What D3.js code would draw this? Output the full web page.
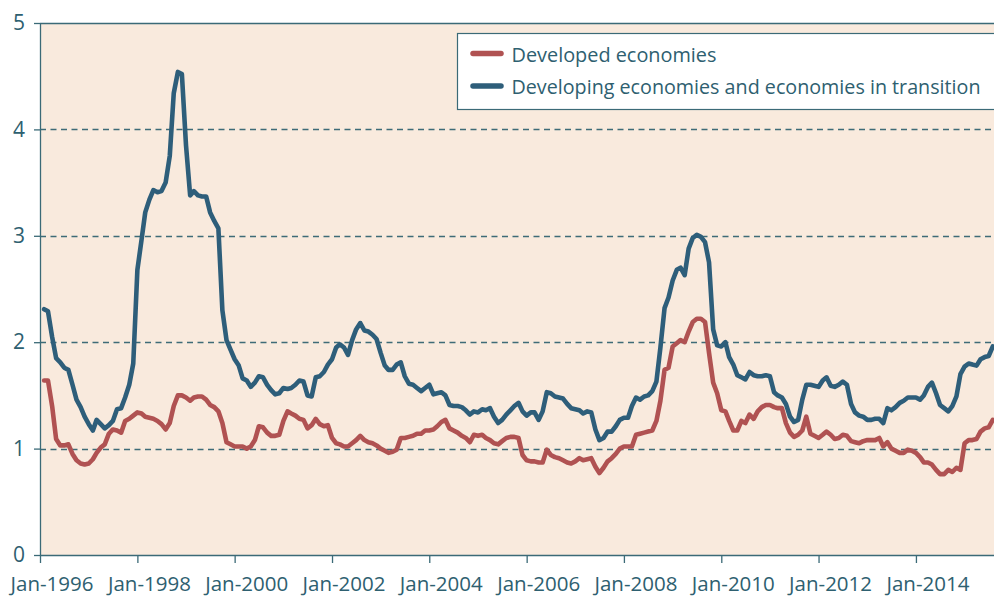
<!DOCTYPE html>
<html>
<head>
<meta charset="utf-8">
<script src="https://cdn.jsdelivr.net/npm/d3@7"></script>
<style>
  body { margin: 0; background: #ffffff; }
  svg { display: block; font-family: "Open Sans", "Noto Sans", sans-serif; }
</style>
</head>
<body>
<svg id="chart" width="994" height="597"></svg>
<script>
// ---------------- DATA ----------------
// Monthly observations, first value = February 1996
const startYear = 1996;
const startMonthIndex = 1; // February (0-based)

const seriesNames = ["Developed economies", "Developing economies and economies in transition"];

const developed = [
  1.64,1.64,1.40,1.09,1.03,1.03,1.04,0.95,0.89,0.86,0.85,0.86,
  0.90,0.96,1.01,1.04,1.14,1.18,1.17,1.15,1.26,1.28,1.31,1.34,
  1.33,1.30,1.29,1.28,1.26,1.23,1.18,1.24,1.40,1.50,1.50,1.48,
  1.45,1.48,1.49,1.49,1.46,1.41,1.39,1.35,1.24,1.06,1.04,1.02,
  1.02,1.02,1.00,1.02,1.08,1.21,1.20,1.15,1.12,1.12,1.13,1.26,
  1.35,1.33,1.31,1.28,1.27,1.19,1.22,1.28,1.23,1.21,1.22,1.10,
  1.05,1.04,1.02,1.02,1.05,1.08,1.12,1.08,1.06,1.05,1.03,1.00,
  0.98,0.96,0.97,0.99,1.10,1.10,1.11,1.12,1.14,1.14,1.17,1.17,
  1.18,1.21,1.25,1.27,1.19,1.17,1.15,1.12,1.10,1.06,1.13,1.12,
  1.13,1.10,1.08,1.05,1.04,1.07,1.10,1.11,1.11,1.10,0.94,0.89,
  0.88,0.88,0.87,0.87,0.99,0.94,0.92,0.91,0.89,0.87,0.86,0.88,
  0.91,0.89,0.90,0.91,0.83,0.77,0.82,0.88,0.91,0.95,1.00,1.02,
  1.02,1.02,1.13,1.14,1.15,1.16,1.17,1.26,1.45,1.74,1.76,1.96,
  1.99,2.02,2.00,2.10,2.19,2.22,2.22,2.19,1.90,1.62,1.52,1.36,
  1.35,1.26,1.17,1.17,1.26,1.24,1.32,1.28,1.35,1.39,1.41,1.41,
  1.39,1.38,1.38,1.24,1.15,1.11,1.13,1.17,1.30,1.14,1.12,1.10,
  1.13,1.16,1.13,1.09,1.10,1.13,1.12,1.07,1.06,1.05,1.07,1.08,
  1.08,1.08,1.10,1.02,1.06,1.00,0.98,0.96,0.96,0.99,0.98,0.96,
  0.92,0.87,0.87,0.85,0.80,0.76,0.76,0.80,0.78,0.82,0.80,1.05,
  1.08,1.08,1.09,1.16,1.19,1.20,1.27
];

const developing = [
  2.31,2.29,2.05,1.85,1.81,1.76,1.74,1.60,1.46,1.39,1.30,1.23,
  1.17,1.27,1.23,1.19,1.22,1.26,1.37,1.38,1.48,1.60,1.80,2.68,
  2.96,3.22,3.34,3.43,3.41,3.42,3.50,3.75,4.34,4.54,4.52,3.85,
  3.38,3.42,3.38,3.37,3.37,3.22,3.14,3.07,2.30,2.02,1.93,1.84,
  1.78,1.66,1.64,1.58,1.62,1.68,1.67,1.60,1.55,1.51,1.52,1.57,
  1.56,1.57,1.60,1.64,1.63,1.50,1.49,1.67,1.68,1.72,1.79,1.84,
  1.95,1.98,1.95,1.88,2.02,2.12,2.18,2.11,2.10,2.07,2.03,1.90,
  1.78,1.74,1.74,1.79,1.81,1.68,1.61,1.60,1.57,1.54,1.57,1.60,
  1.51,1.52,1.53,1.50,1.41,1.40,1.40,1.39,1.36,1.32,1.35,1.34,
  1.37,1.36,1.38,1.30,1.24,1.27,1.32,1.36,1.40,1.43,1.35,1.31,
  1.34,1.34,1.27,1.35,1.53,1.52,1.49,1.48,1.47,1.42,1.38,1.37,
  1.36,1.33,1.35,1.34,1.18,1.08,1.10,1.16,1.16,1.21,1.27,1.29,
  1.29,1.40,1.48,1.46,1.49,1.50,1.54,1.63,1.95,2.32,2.42,2.58,
  2.68,2.70,2.63,2.88,2.98,3.01,2.99,2.94,2.75,2.12,1.97,1.96,
  2.00,1.86,1.79,1.69,1.67,1.65,1.72,1.69,1.68,1.68,1.69,1.68,
  1.53,1.50,1.48,1.42,1.30,1.25,1.27,1.46,1.60,1.60,1.59,1.58,
  1.64,1.67,1.59,1.58,1.60,1.63,1.60,1.42,1.34,1.31,1.30,1.27,
  1.27,1.28,1.28,1.24,1.38,1.36,1.39,1.43,1.45,1.48,1.48,1.48,
  1.46,1.50,1.58,1.62,1.52,1.41,1.38,1.35,1.40,1.49,1.70,1.77,
  1.80,1.79,1.78,1.84,1.86,1.87,1.96
];

const tickYears = [1996, 1998, 2000, 2002, 2004, 2006, 2008, 2010, 2012, 2014];
const tickLabels = ["Jan-1996","Jan-1998","Jan-2000","Jan-2002","Jan-2004","Jan-2006","Jan-2008","Jan-2010","Jan-2012","Jan-2014"];
const yTicks = [0, 1, 2, 3, 4, 5];

// ---------------- STYLE ----------------
const W = 994, H = 597;
const plot = { left: 40, right: 994, top: 23, bottom: 555 };
const colors = {
  bg: "#F9EADD",
  axis: "#3B6A77",
  text: "#2E6070",
  grid: "#3E6B77",
  developed: "#B05252",
  developing: "#2E5E7A"
};

const svg = d3.select("#chart");

const x = d3.scaleTime()
  .domain([new Date(1996, 0, 1), new Date(2015, 7, 10)])
  .range([plot.left, plot.right]);
const y = d3.scaleLinear().domain([0, 5]).range([plot.bottom, plot.top]);

const dates = developed.map((_, i) => new Date(startYear, startMonthIndex + i, 1));

// background
svg.append("rect")
  .attr("x", plot.left).attr("y", plot.top)
  .attr("width", plot.right - plot.left).attr("height", plot.bottom - plot.top)
  .attr("fill", colors.bg);

// gridlines (dashed) for 1..4
svg.append("g").selectAll("line")
  .data(yTicks.filter(d => d > 0 && d < 5))
  .join("line")
  .attr("x1", plot.left).attr("x2", plot.right)
  .attr("y1", d => Math.round(y(d)) + 0.5).attr("y2", d => Math.round(y(d)) + 0.5)
  .attr("stroke", colors.grid).attr("stroke-width", 1.3)
  .attr("stroke-dasharray", "6,4.5");

// top border at 5
svg.append("line")
  .attr("x1", plot.left).attr("x2", plot.right)
  .attr("y1", y(5) + 0.5).attr("y2", y(5) + 0.5)
  .attr("stroke", colors.axis).attr("stroke-width", 1.3);

// clip
svg.append("defs").append("clipPath").attr("id", "clip")
  .append("rect")
  .attr("x", plot.left).attr("y", plot.top - 10)
  .attr("width", plot.right - plot.left).attr("height", plot.bottom - plot.top + 10);

const line = d3.line()
  .x((d, i) => x(dates[i]))
  .y(d => y(d))
  .curve(d3.curveLinear);

const lines = svg.append("g").attr("clip-path", "url(#clip)");
lines.append("path")
  .datum(developed)
  .attr("d", line)
  .attr("fill", "none")
  .attr("stroke", colors.developed)
  .attr("stroke-width", 4.6)
  .attr("stroke-linejoin", "round")
  .attr("stroke-linecap", "round");
lines.append("path")
  .datum(developing)
  .attr("d", line)
  .attr("fill", "none")
  .attr("stroke", colors.developing)
  .attr("stroke-width", 4.6)
  .attr("stroke-linejoin", "round")
  .attr("stroke-linecap", "round");

// y axis
const yAxis = d3.axisLeft(y).tickValues(yTicks).tickSize(6).tickPadding(9).tickFormat(d3.format("d"));
const gy = svg.append("g").attr("transform", `translate(${plot.left},0)`).call(yAxis);
gy.select(".domain").attr("stroke", colors.axis).attr("stroke-width", 1.3)
  .attr("d", `M0.5,${plot.top}V${plot.bottom}`);
gy.selectAll(".tick line").attr("stroke", colors.axis).attr("stroke-width", 1.3);
gy.selectAll(".tick text")
  .attr("fill", colors.text)
  .attr("font-size", 21)
  .attr("font-family", "'Open Sans', 'Noto Sans', sans-serif");

// x axis
const tickDates = tickYears.map(yr => new Date(yr, 0, 1));
const xAxis = d3.axisBottom(x).tickValues(tickDates).tickSize(8).tickPadding(0)
  .tickFormat((d, i) => tickLabels[i]);
const gx = svg.append("g").attr("transform", `translate(0,${plot.bottom})`).call(xAxis);
gx.select(".domain").attr("stroke", colors.axis).attr("stroke-width", 1.3)
  .attr("d", `M${plot.left},0.5H${plot.right}`);
gx.selectAll(".tick line").attr("stroke", colors.axis).attr("stroke-width", 1.3);
gx.selectAll(".tick text")
  .attr("fill", colors.text)
  .attr("font-size", 20.5)
  .attr("font-family", "'Open Sans', 'Noto Sans', sans-serif")
  .attr("x", 11.5)
  .attr("y", 36)
  .attr("dy", 0);

// legend
const legend = svg.append("g");
legend.append("rect")
  .attr("x", 457.5).attr("y", 33.5)
  .attr("width", 560).attr("height", 76)
  .attr("fill", "#ffffff")
  .attr("stroke", colors.axis).attr("stroke-width", 1.2);
const legendItems = [
  { name: seriesNames[0], color: colors.developed, cy: 53.5, base: 61.5, w: 205 },
  { name: seriesNames[1], color: colors.developing, cy: 86, base: 93.5, w: 469 }
];
legendItems.forEach(it => {
  legend.append("line")
    .attr("x1", 473).attr("x2", 501)
    .attr("y1", it.cy).attr("y2", it.cy)
    .attr("stroke", it.color).attr("stroke-width", 5.5)
    .attr("stroke-linecap", "round");
  legend.append("text")
    .attr("x", 511.5).attr("y", it.base)
    .attr("fill", colors.text)
    .attr("font-size", 20.5)
    .attr("textLength", it.w)
    .attr("lengthAdjust", "spacingAndGlyphs")
    .text(it.name);
});
</script>
</body>
</html>
